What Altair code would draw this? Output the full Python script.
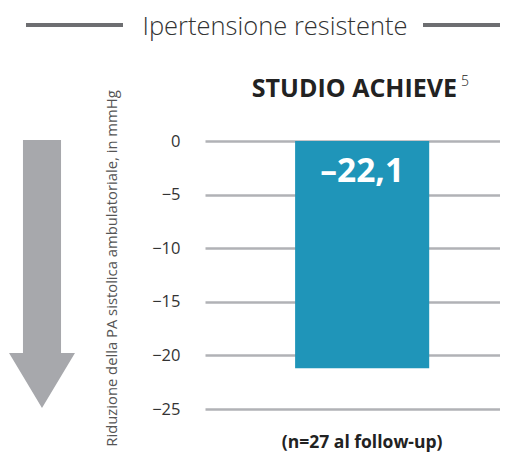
import altair as alt
import pandas as pd

# ---- data ----
categories = ["(n=27 al follow-up)"]
values = [-21.2]
value_labels = ["\u201322,1"]
y_ticks = [0, -5, -10, -15, -20, -25]
section_title = "Ipertensione resistente"
study_title = "STUDIO ACHIEVE"
study_ref = "5"
y_title = "Riduzione della PA sistolica ambulatoriale, in mmHg"

df = pd.DataFrame({"cat": categories, "value": values, "label": value_labels})

FONT = "Open Sans"
BAR = "#1f95b9"
GRID = "#b1b2b6"
ARROW = "#a7a8ac"

base = alt.Chart(df)

x_enc = alt.X(
    "cat:N",
    title=None,
    scale=alt.Scale(paddingInner=0, paddingOuter=0.6, align=0.56),
    axis=alt.Axis(
        domain=False, ticks=False, labelAngle=0, labelFontSize=17.5,
        labelFont=FONT, labelFontWeight="bold", labelColor="#222222",
        labelPadding=24,
    ),
)

y_enc = alt.Y(
    "value:Q",
    title=y_title,
    scale=alt.Scale(domain=[-25, 0], nice=False, zero=False),
    axis=alt.Axis(
        values=y_ticks, grid=True, gridColor=GRID, gridWidth=2.5,
        domain=False, ticks=False, labelFontSize=16.5, labelFont=FONT,
        labelColor="#333333", labelPadding=25,
        titleFont=FONT, titleFontSize=14.8, titleFontWeight="normal",
        titleColor="#555555", titleAngle=270, titleX=-93, titleY=127,
        titleAlign="center", titleBaseline="middle",
    ),
)

bars = base.mark_bar(color=BAR).encode(x=x_enc, y=y_enc)

bar_label = base.mark_text(
    color="white", font=FONT, fontWeight="bold", fontSize=33.5,
    baseline="middle", align="center", dy=31,
).encode(x=alt.X("cat:N"), y=alt.datum(0), text="label:N")

arrow_path = ("M-0.142,-1 L0.142,-1 L0.142,0.59 L0.246,0.59 L0,1 "
              "L-0.246,0.59 L-0.142,0.59 Z")
arrow = base.mark_point(
    shape=arrow_path, filled=True, color=ARROW, opacity=1, size=71824,
    strokeWidth=0,
).encode(x=alt.value(-163), y=alt.value(133))

line_left = base.mark_rule(color="#6d6e71", strokeWidth=4).encode(
    x=alt.value(-179), x2=alt.value(-82), y=alt.value(-116))
line_right = base.mark_rule(color="#6d6e71", strokeWidth=4).encode(
    x=alt.value(218), x2=alt.value(303), y=alt.value(-116))

head = base.mark_text(
    text=section_title, font=FONT, fontSize=25.5, fontWeight=300,
    color="#333333", align="center", baseline="middle",
).encode(x=alt.value(70), y=alt.value(-114))

study = base.mark_text(
    text=study_title, font=FONT, fontSize=25, fontWeight="bold",
    color="#222222", align="right", baseline="middle",
).encode(x=alt.value(252), y=alt.value(-52))

study_sup = base.mark_text(
    text=study_ref, font=FONT, fontSize=14, fontWeight=300,
    color="#222222", align="left", baseline="middle",
).encode(x=alt.value(256), y=alt.value(-59))

chart = alt.layer(
    arrow, bars, bar_label, line_left, line_right, head, study, study_sup
).properties(
    width=295, height=268,
    autosize=alt.AutoSizeParams(type="none"),
    padding={"left": 197, "top": 133, "right": 0, "bottom": 43},
    background="white",
).configure_view(stroke=None)

chart.save("out.html", embed_options={"renderer": "svg", "actions": False})
